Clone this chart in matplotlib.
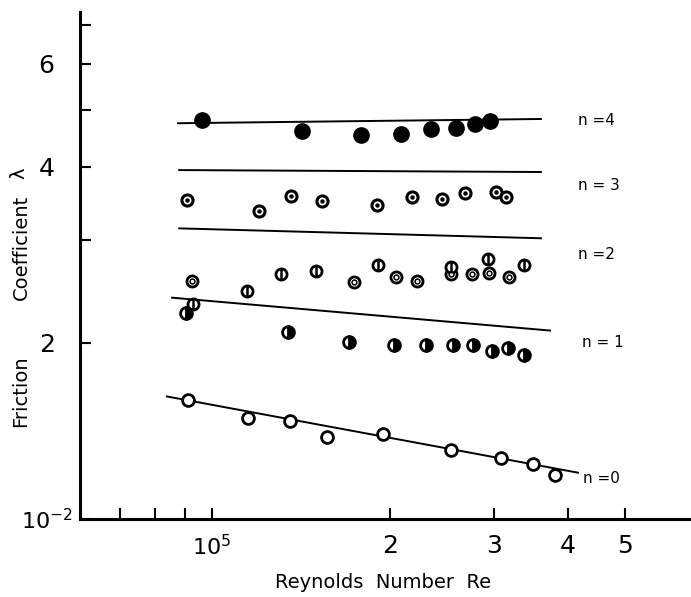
import numpy as np
import matplotlib.pyplot as plt
from matplotlib.ticker import FixedLocator, FixedFormatter, NullLocator

plt.rcParams['font.family'] = ['DejaVu Sans']
plt.rcParams['mathtext.fontset'] = 'dejavusans'

# values; lambda in units of 1e-2
re_n4 = [0.96e5, 1.42e5, 1.79e5, 2.09e5, 2.35e5, 2.59e5, 2.79e5, 2.95e5]
lam_n4 = [4.81, 4.61, 4.53, 4.55, 4.64, 4.66, 4.73, 4.79]

re_n3 = [0.907e5, 1.20e5, 1.36e5, 1.535e5, 1.90e5, 2.18e5, 2.45e5, 2.68e5, 3.02e5, 3.145e5]
lam_n3 = [3.51, 3.36, 3.57, 3.50, 3.44, 3.55, 3.52, 3.61, 3.62, 3.55]

# n=2 has two kinds of symbol
re_n2a = [0.925e5, 1.74e5, 2.05e5, 2.22e5, 2.54e5, 2.75e5, 2.94e5, 3.18e5]
lam_n2a = [2.55, 2.54, 2.59, 2.55, 2.62, 2.62, 2.63, 2.59]
re_n2b = [0.929e5, 1.146e5, 1.308e5, 1.50e5, 1.91e5, 2.54e5, 2.93e5, 3.37e5]
lam_n2b = [2.33, 2.45, 2.62, 2.65, 2.72, 2.70, 2.78, 2.72]

re_n1 = [0.904e5, 1.345e5, 1.705e5, 2.03e5, 2.30e5, 2.56e5, 2.76e5, 2.98e5, 3.17e5, 3.37e5]
lam_n1 = [2.25, 2.09, 2.01, 1.98, 1.98, 1.98, 1.98, 1.94, 1.96, 1.91]

re_n0 = [0.911e5, 1.151e5, 1.355e5, 1.565e5, 1.947e5, 2.54e5, 3.08e5, 3.49e5, 3.80e5]
lam_n0 = [1.60, 1.49, 1.47, 1.38, 1.40, 1.31, 1.27, 1.24, 1.19]

# fitted lines (end points)
fit4_re, fit4_lam = [0.876e5, 3.60e5], [4.75, 4.83]
fit3_re, fit3_lam = [0.88e5, 3.60e5], [3.95, 3.92]
fit2_re, fit2_lam = [0.88e5, 3.60e5], [3.14, 3.02]
fit1_re, fit1_lam = [0.856e5, 3.73e5], [2.39, 2.10]
fit0_re, fit0_lam = [0.839e5, 4.16e5], [1.62, 1.20]

n_labels = ["n =4", "n = 3", "n =2", "n = 1", "n =0"]
n_label_re = [4.16e5, 4.16e5, 4.16e5, 4.22e5, 4.24e5]
n_label_lam = [4.81, 3.72, 2.83, 2.00, 1.175]

xtick_vals = [7e4, 8e4, 9e4, 1e5, 2e5, 3e5, 4e5, 5e5]
xtick_labels = ["", "", "", "$10^5$", "2", "3", "4", "5"]
ytick_vals = [1, 2, 3, 4, 5, 6, 7]
ytick_labels = ["$10^{-2}$", "2", "", "4", "", "6", ""]

fig = plt.figure(figsize=(6.91, 5.97), dpi=100)
ax = fig.add_axes([80/691, 78/597, 611/691, 507/597])
ax.set_xscale('log')
ax.set_yscale('log')

for fx, fy in [(fit4_re, fit4_lam), (fit3_re, fit3_lam), (fit2_re, fit2_lam),
               (fit1_re, fit1_lam), (fit0_re, fit0_lam)]:
    ax.plot(fx, fy, color='black', lw=1.4, zorder=1)

# n=4 filled
ax.plot(re_n4, lam_n4, 'o', ms=11, mfc='black', mec='black', mew=1, zorder=3)
# n=3 ring with dot
ax.plot(re_n3, lam_n3, 'o', ms=8, mfc='white', mec='black', mew=2.2, zorder=3)
ax.plot(re_n3, lam_n3, 'o', ms=3.2, mfc='black', mec='black', mew=0, zorder=4)
# n=2 double ring
ax.plot(re_n2a, lam_n2a, 'o', ms=8, mfc='white', mec='black', mew=2, zorder=3)
ax.plot(re_n2a, lam_n2a, 'o', ms=3.5, mfc='white', mec='black', mew=1.1, zorder=4)
# n=2 ring with bar
ax.plot(re_n2b, lam_n2b, 'o', ms=8, mfc='white', mec='black', mew=2, zorder=3)
ax.plot(re_n2b, lam_n2b, '|', ms=8, mec='black', mew=1.8, zorder=4)
# n=1 half filled
ax.plot(re_n1, lam_n1, 'o', ms=8.5, fillstyle='right', mfc='black',
        markerfacecoloralt='white', mec='black', mew=2, zorder=3)
# n=0 open
ax.plot(re_n0, lam_n0, 'o', ms=8.5, mfc='white', mec='black', mew=2, zorder=3)

for lab, lx, ly in zip(n_labels, n_label_re, n_label_lam):
    ax.text(lx, ly, lab, fontsize=11, ha='left', va='center')

ax.set_xlim(5.98e4, 6.46e5)
ax.set_ylim(1.0, 7.36)

ax.xaxis.set_major_locator(FixedLocator(xtick_vals))
ax.xaxis.set_major_formatter(FixedFormatter(xtick_labels))
ax.xaxis.set_minor_locator(NullLocator())
ax.yaxis.set_major_locator(FixedLocator(ytick_vals))
ax.yaxis.set_major_formatter(FixedFormatter(ytick_labels))
ax.yaxis.set_minor_locator(NullLocator())

ax.tick_params(axis='both', direction='in', length=8, width=1.5, labelsize=18)
ax.tick_params(axis='x', pad=11)
ax.tick_params(axis='y', pad=24)
for lab in ax.get_yticklabels():
    lab.set_ha('center')
# power-of-ten labels are narrower in the original
ax.get_yticklabels()[0].set_fontsize(16)
ax.get_xticklabels()[3].set_fontsize(16)

for s in ['top', 'right']:
    ax.spines[s].set_visible(False)
for s in ['left', 'bottom']:
    ax.spines[s].set_linewidth(2.2)

fig.text(383/691, 1 - 582/597, "Reynolds  Number  Re", fontsize=14,
         ha='center', va='center')
fig.text(21/691, 1 - 391/597, "Friction", fontsize=14, rotation=90,
         ha='center', va='center')
fig.text(21/691, 1 - 247/597, "Coefficient", fontsize=14, rotation=90,
         ha='center', va='center')
fig.text(19/691, 1 - 173/597, "λ", fontsize=14, rotation=90,
         ha='center', va='center')

fig.savefig('out.png', dpi=100)
